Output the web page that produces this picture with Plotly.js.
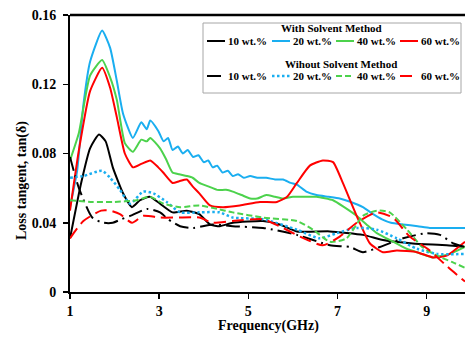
<!DOCTYPE html>
<html>
<head>
<meta charset="utf-8">
<script src="https://cdn.plot.ly/plotly-3.0.1.min.js"></script>
<style>
html,body{margin:0;padding:0;background:#fff;}
#chart{width:465px;height:338px;}
</style>
</head>
<body>
<div id="chart"></div>
<script>
// ---- data ----
const xTicks = [1, 3, 5, 7, 9];
const labels = ["10 wt.%", "20 wt.%", "40 wt.%", "60 wt.%"];
const groupTitles = ["With Solvent Method", "Wihout Solvent Method"];

// With solvent method
const withX10 = [1, 1.25, 1.45, 1.65, 1.8, 1.96, 2.19, 2.39, 2.57, 2.79, 3.02, 3.3, 3.62, 3.9, 4.14, 4.36, 4.65, 5.33, 5.7, 6.09, 6.83, 7.57, 8.02, 8.69, 9.45, 9.86];
const withY10 = [0.031, 0.063, 0.083, 0.091, 0.087, 0.072, 0.057, 0.049, 0.053, 0.055, 0.051, 0.046, 0.047, 0.045, 0.039, 0.038, 0.040, 0.041, 0.039, 0.035, 0.035, 0.033, 0.030, 0.028, 0.027, 0.026];

const withX20 = [1, 1.16, 1.3, 1.45, 1.72, 1.9, 2.05, 2.19, 2.41, 2.6, 2.72, 2.8, 2.98, 3.1, 3.2, 3.3, 3.42, 3.53, 3.64, 3.76, 3.88, 4.0, 4.1, 4.2, 4.3, 4.42, 4.54, 4.65, 4.77, 4.9, 5.04, 5.2, 5.4, 5.6, 5.78, 5.95, 6.09, 6.3, 6.53, 6.8, 7.05, 7.3, 7.57, 7.8, 8.0, 8.2, 8.47, 8.8, 9.07, 9.4, 9.86];
const withY20 = [0.049, 0.070, 0.108, 0.133, 0.151, 0.141, 0.122, 0.103, 0.089, 0.098, 0.094, 0.099, 0.093, 0.087, 0.089, 0.082, 0.084, 0.080, 0.082, 0.078, 0.079, 0.075, 0.076, 0.072, 0.073, 0.069, 0.070, 0.067, 0.068, 0.066, 0.067, 0.066, 0.066, 0.065, 0.065, 0.063, 0.062, 0.058, 0.056, 0.055, 0.054, 0.052, 0.049, 0.045, 0.042, 0.040, 0.039, 0.038, 0.037, 0.037, 0.037];

const withX40 = [1, 1.2, 1.45, 1.72, 1.9, 2.05, 2.23, 2.41, 2.6, 2.72, 2.8, 3.02, 3.15, 3.3, 3.45, 3.62, 3.75, 3.9, 4.1, 4.3, 4.5, 4.65, 4.85, 5.04, 5.2, 5.4, 5.6, 5.78, 6.0, 6.3, 6.53, 6.9, 7.15, 7.43, 7.65, 7.88, 8.1, 8.33, 8.55, 8.78, 9.14, 9.52, 9.86];
const withY40 = [0.076, 0.092, 0.125, 0.134, 0.124, 0.111, 0.086, 0.081, 0.088, 0.087, 0.089, 0.083, 0.077, 0.069, 0.068, 0.067, 0.066, 0.063, 0.061, 0.059, 0.059, 0.058, 0.056, 0.054, 0.054, 0.056, 0.055, 0.054, 0.055, 0.055, 0.055, 0.053, 0.049, 0.044, 0.039, 0.034, 0.031, 0.028, 0.025, 0.023, 0.020, 0.022, 0.026];

const withX60 = [1, 1.2, 1.45, 1.72, 1.9, 2.05, 2.23, 2.41, 2.6, 2.8, 2.98, 3.09, 3.3, 3.45, 3.62, 3.75, 3.9, 4.14, 4.43, 4.81, 5.26, 5.64, 5.87, 6.09, 6.38, 6.67, 6.9, 7.12, 7.43, 7.73, 8.02, 8.33, 8.78, 9.14, 9.45, 9.86];
const withY60 = [0.047, 0.082, 0.116, 0.1295, 0.118, 0.101, 0.080, 0.072, 0.074, 0.076, 0.072, 0.069, 0.063, 0.064, 0.065, 0.061, 0.057, 0.050, 0.049, 0.050, 0.052, 0.052, 0.055, 0.063, 0.073, 0.076, 0.075, 0.063, 0.044, 0.028, 0.023, 0.024, 0.023, 0.020, 0.021, 0.029];

// Without solvent method
const woX10 = [1, 1.2, 1.5, 1.75, 1.96, 2.15, 2.35, 2.73, 3.02, 3.2, 3.47, 3.76, 4.2, 4.65, 5.33, 6.09, 6.83, 7.28, 7.57, 7.95, 8.47, 9.0, 9.3, 9.6, 9.86];
const woY10 = [0.078, 0.060, 0.043, 0.040, 0.040, 0.042, 0.044, 0.048, 0.046, 0.042, 0.038, 0.037, 0.039, 0.038, 0.037, 0.033, 0.027, 0.026, 0.023, 0.026, 0.031, 0.034, 0.033, 0.028, 0.026];

const woX20 = [1, 1.3, 1.72, 1.9, 2.12, 2.35, 2.64, 2.87, 3.17, 3.47, 3.9, 4.36, 4.65, 5.33, 6.09, 6.6, 6.98, 7.43, 7.88, 8.33, 8.78, 9.23, 9.86];
const woY20 = [0.066, 0.067, 0.070, 0.066, 0.059, 0.051, 0.058, 0.057, 0.052, 0.046, 0.046, 0.046, 0.043, 0.042, 0.036, 0.031, 0.034, 0.037, 0.036, 0.031, 0.025, 0.022, 0.022];

const woX40 = [1, 1.5, 1.96, 2.5, 2.79, 3.1, 3.47, 3.9, 4.3, 4.65, 5.33, 6.09, 6.45, 6.83, 7.2, 7.57, 7.88, 8.17, 8.56, 8.9, 9.23, 9.6, 9.86];
const woY40 = [0.053, 0.052, 0.052, 0.053, 0.055, 0.051, 0.049, 0.050, 0.048, 0.046, 0.043, 0.041, 0.036, 0.029, 0.031, 0.044, 0.047, 0.046, 0.036, 0.026, 0.021, 0.017, 0.014];

const woX60 = [1, 1.3, 1.7, 1.9, 2.12, 2.39, 2.64, 3.02, 3.4, 3.9, 4.2, 4.65, 5.33, 5.7, 6.16, 6.67, 7.05, 7.43, 7.88, 8.24, 8.62, 9.07, 9.45, 9.86];
const woY60 = [0.031, 0.041, 0.047, 0.047, 0.045, 0.040, 0.044, 0.043, 0.043, 0.043, 0.040, 0.041, 0.042, 0.038, 0.032, 0.027, 0.032, 0.040, 0.046, 0.043, 0.032, 0.024, 0.015, 0.006];

// ---- styles ----
const colors = ["#000000", "#1aaef0", "#4cd24c", "#ff0000"];
const woDash = ["14px,5px,2px,5px", "2.5px,2.5px", "6px,3px", "12px,6px"];

const withSeries = [[withX10, withY10], [withX20, withY20], [withX40, withY40], [withX60, withY60]];
const woSeries = [[woX10, woY10], [woX20, woY20], [woX40, woY40], [woX60, woY60]];

const traces = [];
withSeries.forEach((s, i) => {
  traces.push({x: s[0], y: s[1], type: "scatter", mode: "lines", name: labels[i],
    line: {color: colors[i], width: 2, shape: "spline", smoothing: 0.5}, showlegend: false});
});
woSeries.forEach((s, i) => {
  traces.push({x: s[0], y: s[1], type: "scatter", mode: "lines", name: labels[i],
    line: {color: colors[i], width: i === 1 ? 2.5 : 2, dash: woDash[i], shape: "spline", smoothing: 0.6}, showlegend: false});
});

// ---- layout geometry ----
const W = 465, H = 338, ML = 70, MR = 0, MT = 15, MB = 46;
const PW = W - ML - MR, PH = H - MT - MB;
const px = v => (v - ML) / PW;
const py = v => (H - MB - v) / PH;
const serif = "Liberation Serif, Times New Roman, serif";

const shapes = [
  {type: "line", xref: "paper", yref: "paper", x0: 0, x1: 1, y0: 1, y1: 1, line: {color: "#000", width: 2.5}},
  {type: "rect", xref: "paper", yref: "paper", x0: px(203), x1: px(461), y0: py(23), y1: py(93),
   line: {color: "#a6a6a6", width: 1}, fillcolor: "#ffffff", layer: "above"}
];
const annotations = [
  {xref: "paper", yref: "paper", x: px(22), y: py(181), text: "<b>Loss tangent, tan(δ)</b>", textangle: -90,
   showarrow: false, xanchor: "center", yanchor: "middle", font: {family: serif, size: 14, color: "#000"}},
  {xref: "paper", yref: "paper", x: px(268), y: py(326), text: "<b>Frequency(GHz)</b>",
   showarrow: false, xanchor: "center", yanchor: "middle", font: {family: serif, size: 14, color: "#000"}},
  {xref: "paper", yref: "paper", x: px(331), y: py(28), text: "<b>" + groupTitles[0] + "</b>",
   showarrow: false, xanchor: "center", yanchor: "middle", font: {family: serif, size: 11, color: "#000"}},
  {xref: "paper", yref: "paper", x: px(341), y: py(64), text: "<b>" + groupTitles[1] + "</b>",
   showarrow: false, xanchor: "center", yanchor: "middle", font: {family: serif, size: 11, color: "#000"}}
];
const colX = [207, 272, 336, 400];
const rowY = [41, 76];
[0, 1].forEach(r => {
  labels.forEach((lab, i) => {
    const dash = r === 0 ? "solid" : woDash[i];
    shapes.push({type: "line", xref: "paper", yref: "paper", x0: px(colX[i]), x1: px(colX[i] + 18),
      y0: py(rowY[r]), y1: py(rowY[r]), layer: "above",
      line: {color: colors[i], width: (r === 1 && i === 1) ? 2.5 : 2, dash: dash}});
    annotations.push({xref: "paper", yref: "paper", x: px(colX[i] + 19), y: py(rowY[r]), text: "<b>" + lab + "</b>",
      showarrow: false, xanchor: "left", yanchor: "middle", font: {family: serif, size: 11, color: "#000"}});
  });
});

const layout = {
  width: W, height: H,
  margin: {l: ML, r: MR, t: MT, b: MB, pad: 0},
  paper_bgcolor: "#fff", plot_bgcolor: "#fff",
  showlegend: false,
  xaxis: {range: [1, 9.86], tickvals: xTicks, ticktext: xTicks.map(String), showgrid: false, zeroline: false,
    showline: true, linecolor: "#000", linewidth: 2, ticks: "outside", ticklen: 5, tickwidth: 1.5, tickcolor: "#000",
    tickfont: {family: serif, size: 14, color: "#000", weight: "bold"}},
  yaxis: {range: [0, 0.16], dtick: 0.04, tick0: 0, showgrid: false, zeroline: false,
    showline: true, linecolor: "#000", linewidth: 2, ticks: "outside", ticklen: 5, tickwidth: 1.5, tickcolor: "#000",
    ticklabelstandoff: 4,
    tickfont: {family: serif, size: 14, color: "#000", weight: "bold"}},
  shapes: shapes,
  annotations: annotations
};

Plotly.newPlot("chart", traces, layout, {staticPlot: true, displayModeBar: false});
</script>
</body>
</html>
